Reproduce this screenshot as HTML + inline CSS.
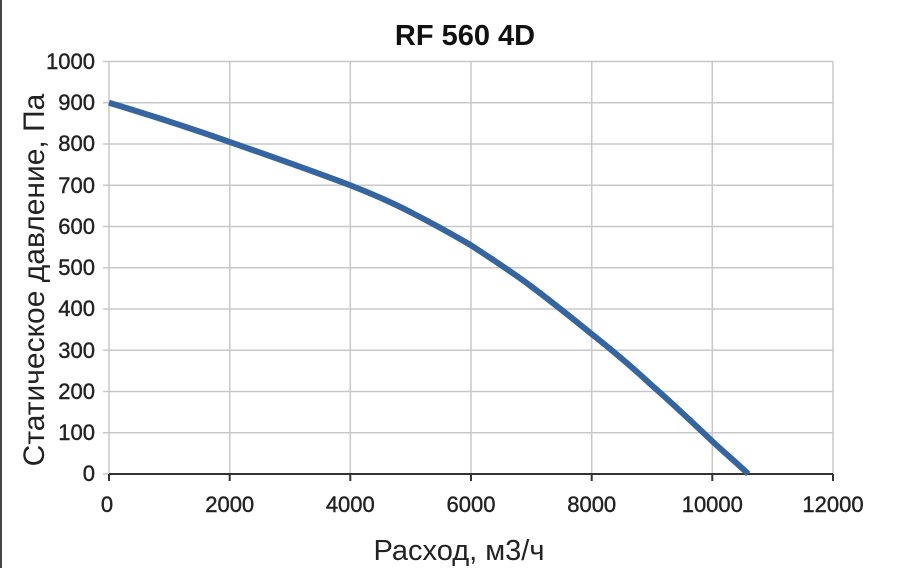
<!DOCTYPE html>
<html><head><meta charset="utf-8"><style>
html,body{margin:0;padding:0;background:#fff;}
svg text{font-family:"Liberation Sans",Arial,sans-serif;}
</style></head><body>
<svg width="900" height="568" viewBox="0 0 900 568" xmlns="http://www.w3.org/2000/svg">
<rect x="0" y="0" width="900" height="568" fill="#fff"/>
<line x1="1" y1="0" x2="1" y2="568" stroke="#444" stroke-width="2"/>
<g stroke="#c8c8c8" stroke-width="1.5">
<line x1="103" y1="61.5" x2="833" y2="61.5"/>
<line x1="103" y1="102.75" x2="833" y2="102.75"/>
<line x1="103" y1="144" x2="833" y2="144"/>
<line x1="103" y1="185.25" x2="833" y2="185.25"/>
<line x1="103" y1="226.5" x2="833" y2="226.5"/>
<line x1="103" y1="267.75" x2="833" y2="267.75"/>
<line x1="103" y1="309" x2="833" y2="309"/>
<line x1="103" y1="350.25" x2="833" y2="350.25"/>
<line x1="103" y1="391.5" x2="833" y2="391.5"/>
<line x1="103" y1="432.75" x2="833" y2="432.75"/>
<line x1="103" y1="474" x2="109" y2="474"/>
<line x1="109" y1="61.5" x2="109" y2="474"/>
<line x1="229.7" y1="61.5" x2="229.7" y2="474"/>
<line x1="350.3" y1="61.5" x2="350.3" y2="474"/>
<line x1="471" y1="61.5" x2="471" y2="474"/>
<line x1="591.7" y1="61.5" x2="591.7" y2="474"/>
<line x1="712.3" y1="61.5" x2="712.3" y2="474"/>
<line x1="833" y1="61.5" x2="833" y2="474"/>
</g>
<line x1="109" y1="474" x2="833" y2="474" stroke="#333" stroke-width="2"/>
<g stroke="#333" stroke-width="2">
<line x1="109" y1="474" x2="109" y2="481"/>
<line x1="229.7" y1="474" x2="229.7" y2="481"/>
<line x1="350.3" y1="474" x2="350.3" y2="481"/>
<line x1="471" y1="474" x2="471" y2="481"/>
<line x1="591.7" y1="474" x2="591.7" y2="481"/>
<line x1="712.3" y1="474" x2="712.3" y2="481"/>
<line x1="833" y1="474" x2="833" y2="481"/>
</g>
<path d="M109,102.75 C150,115 190,128 229.6,141.9 C270,156 310,170 350.2,185.25 C380,197 395,204 410.5,212.1 C430,222 450,233 470.8,245.1 C492,259 512,272 531.1,286.3 C552,302 572,318 591.4,333.8 C612,350 632,367 651.7,385.3 C672,403 692,422 712,441 C726,454 738,464 748.2,474" fill="none" stroke="#3465a0" stroke-width="6"/>
<g font-size="22" fill="#222" text-anchor="end" stroke="#222" stroke-width="0.4">
<text x="95" y="69">1000</text>
<text x="95" y="110">900</text>
<text x="95" y="151">800</text>
<text x="95" y="193">700</text>
<text x="95" y="234">600</text>
<text x="95" y="275">500</text>
<text x="95" y="316">400</text>
<text x="95" y="358">300</text>
<text x="95" y="399">200</text>
<text x="95" y="440">100</text>
<text x="95" y="481">0</text>
</g>
<g font-size="22" fill="#222" text-anchor="middle" stroke="#222" stroke-width="0.4">
<text x="107" y="512">0</text>
<text x="229.7" y="512">2000</text>
<text x="350.3" y="512">4000</text>
<text x="471" y="512">6000</text>
<text x="591.7" y="512">8000</text>
<text x="712.3" y="512">10000</text>
<text x="833" y="512">12000</text>
</g>
<text x="465" y="45" font-size="29" font-weight="bold" text-anchor="middle" fill="#111">RF 560 4D</text>
<text x="459" y="560" font-size="29" text-anchor="middle" fill="#222">Расход, м3/ч</text>
<text transform="translate(44,280) rotate(-90)" font-size="30" text-anchor="middle" fill="#222">Статическое давление, Па</text>
</svg>
</body></html>
